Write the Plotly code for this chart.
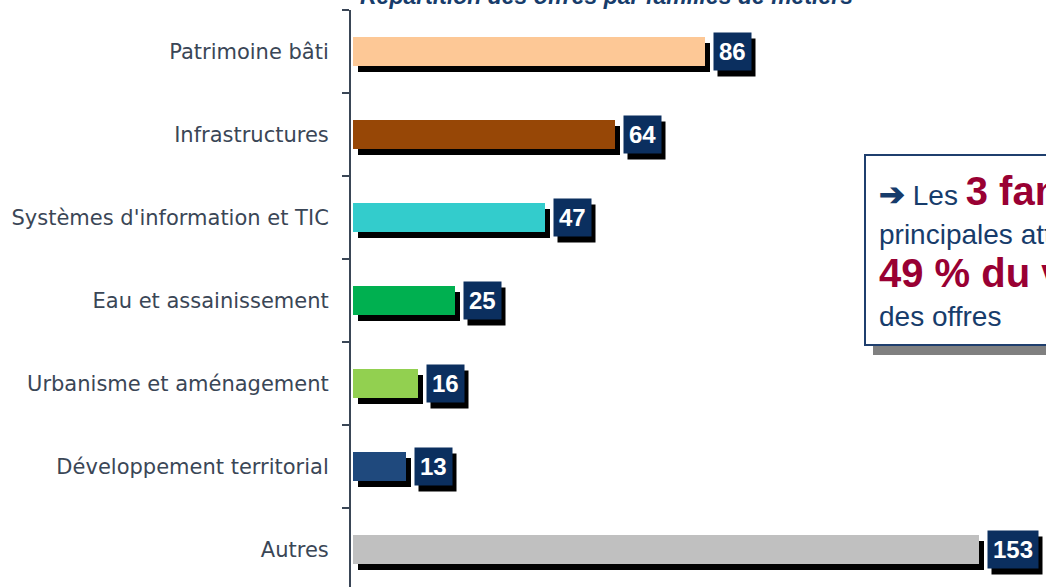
import plotly.graph_objects as go

# ---------------- data ----------------
categories = [
    "Patrimoine bâti",
    "Infrastructures",
    "Systèmes d'information et TIC",
    "Eau et assainissement",
    "Urbanisme et aménagement",
    "Développement territorial",
    "Autres",
]
values = [86, 64, 47, 25, 16, 13, 153]
bar_colors = ["#FDC896", "#974706", "#33CCCC", "#00B050", "#92D050", "#1F497D", "#C0C0C0"]
title_text = "Répartition des offres par familles de métiers"

# ---------------- layout geometry (pixels) ----------------
W, H = 1046, 587
ML, MT = 351, 10
PW, PH = W - ML, H - MT
PX_PER_UNIT = 4.09
X0_PX = 353
x_lo = -(X0_PX - ML) / PX_PER_UNIT
x_hi = x_lo + PW / PX_PER_UNIT
CAT_PX = 83.0
y_lo = -0.5
y_hi = y_lo + PH / CAT_PX


def px_x(p):
    return (p - ML) / PW


def px_y(p):
    return 1 - (p - MT) / PH


ypos = list(range(len(categories)))
shadow_dx = 5 / PX_PER_UNIT
shadow_dy = 6 / CAT_PX

NAVY = "#0B2F5F"
TXT_NAVY = "#173C6B"
RED = "#990033"
AXIS = "#3A4656"

fig = go.Figure()

# bar shadows
fig.add_trace(go.Bar(
    x=values, y=[p + shadow_dy for p in ypos], base=shadow_dx, orientation="h",
    width=0.36, marker=dict(color="#000000", line=dict(width=0)),
    hoverinfo="skip", showlegend=False,
))
# bars
fig.add_trace(go.Bar(
    x=values, y=ypos, orientation="h", width=0.36,
    marker=dict(color=bar_colors, line=dict(width=0)),
    showlegend=False,
))

annotations = []
value_font = dict(family="Liberation Sans Narrow, Arial Narrow, Liberation Sans, Arial", size=24, color="white")
for v, p in zip(values, ypos):
    txt = "<b>%d</b>" % v
    annotations.append(dict(
        x=v, y=p, xref="x", yref="y", text=txt, showarrow=False,
        xanchor="left", yanchor="middle", xshift=12, yshift=-6,
        bgcolor="#000000", borderpad=5, font=dict(value_font, color="#000000"),
    ))
    annotations.append(dict(
        x=v, y=p, xref="x", yref="y", text=txt, showarrow=False,
        xanchor="left", yanchor="middle", xshift=8,
        bgcolor=NAVY, borderpad=5, font=value_font,
    ))

# title (partially cut at the top)
annotations.append(dict(
    x=px_x(606), y=px_y(11), xref="paper", yref="paper",
    text="<b><i>" + title_text + "</i></b>", showarrow=False,
    xanchor="center", yanchor="bottom",
    font=dict(family="Liberation Sans, Arial", size=23, color="#173C6B"),
))

# callout text lines
box_font = dict(family="Liberation Sans, Arial", size=28, color=TXT_NAVY)
big = "<span style='font-size:40px;color:" + RED + "'><b>{}</b></span>"
lines = [
    ("<span style='font-size:31px'><b>➔</b></span>&nbsp;Les " + big.format("3 familles"), 191),
    ("principales atteignent", 234),
    (big.format("49 % du volume"), 273),
    ("des offres", 316),
]
for t, cy in lines:
    annotations.append(dict(
        x=px_x(877), y=px_y(cy), xref="paper", yref="paper", text=t,
        showarrow=False, xanchor="left", yanchor="middle", align="left",
        font=box_font,
    ))

shapes = [
    dict(type="rect", xref="paper", yref="paper",
         x0=px_x(873), x1=px_x(1120), y0=px_y(355), y1=px_y(163),
         fillcolor="#808080", line=dict(width=0)),
    dict(type="rect", xref="paper", yref="paper",
         x0=px_x(865), x1=px_x(1110), y0=px_y(345), y1=px_y(155),
         fillcolor="white", line=dict(color="#1F3F6E", width=2)),
]

fig.update_layout(
    width=W, height=H,
    margin=dict(l=ML, r=0, t=MT, b=0, pad=0),
    paper_bgcolor="white", plot_bgcolor="white",
    barmode="overlay", bargap=0,
    annotations=annotations, shapes=shapes,
    xaxis=dict(range=[x_lo, x_hi], visible=False, fixedrange=True),
    yaxis=dict(
        range=[y_hi, y_lo], tickmode="array", tickvals=ypos, ticktext=categories,
        ticks="", showline=True, linecolor=AXIS, linewidth=2, showgrid=False,
        zeroline=False, ticklabelstandoff=16,
        tickfont=dict(family="DejaVu Sans", size=21, color=AXIS),
        minor=dict(tickmode="array", tickvals=[i - 0.5 for i in range(len(categories) + 1)],
                   ticks="outside", ticklen=7, tickcolor=AXIS, tickwidth=1.5, showgrid=False),
        fixedrange=True,
    ),
)

fig.write_html("out.html", config={"displayModeBar": False},
               post_script="document.body.style.margin='0';")
